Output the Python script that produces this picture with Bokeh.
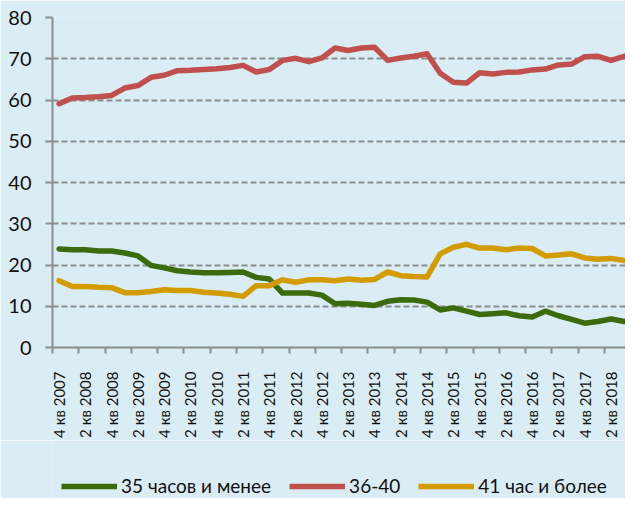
import math
from bokeh.plotting import figure
from bokeh.layouts import column
from bokeh.models import Range1d, FixedTicker, Legend, LegendItem, ColumnDataSource
from bokeh.embed import file_html
from bokeh.resources import INLINE

quarters = [
    "4 кв 2007",
    "1 кв 2008", "2 кв 2008", "3 кв 2008", "4 кв 2008",
    "1 кв 2009", "2 кв 2009", "3 кв 2009", "4 кв 2009",
    "1 кв 2010", "2 кв 2010", "3 кв 2010", "4 кв 2010",
    "1 кв 2011", "2 кв 2011", "3 кв 2011", "4 кв 2011",
    "1 кв 2012", "2 кв 2012", "3 кв 2012", "4 кв 2012",
    "1 кв 2013", "2 кв 2013", "3 кв 2013", "4 кв 2013",
    "1 кв 2014", "2 кв 2014", "3 кв 2014", "4 кв 2014",
    "1 кв 2015", "2 кв 2015", "3 кв 2015", "4 кв 2015",
    "1 кв 2016", "2 кв 2016", "3 кв 2016", "4 кв 2016",
    "1 кв 2017", "2 кв 2017", "3 кв 2017", "4 кв 2017",
    "1 кв 2018", "2 кв 2018", "3 кв 2018",
]

series_names = ["35 часов и менее", "36-40", "41 час и более"]

hours_35_less = [
    23.9, 23.7, 23.7, 23.4, 23.4, 22.9, 22.2, 19.9, 19.3, 18.6, 18.3,
    18.1, 18.1, 18.2, 18.3, 17.0, 16.6, 13.2, 13.2, 13.2, 12.7, 10.6,
    10.7, 10.5, 10.2, 11.2, 11.6, 11.5, 11.0, 9.1, 9.6, 8.8, 8.0,
    8.2, 8.4, 7.7, 7.4, 8.8, 7.7, 6.8, 5.9, 6.3, 6.9, 6.3,
]

hours_36_40 = [
    59.1, 60.5, 60.6, 60.8, 61.1, 62.9, 63.5, 65.5, 66.0, 67.1, 67.2,
    67.4, 67.6, 67.9, 68.4, 66.8, 67.4, 69.6, 70.1, 69.3, 70.2, 72.6,
    72.0, 72.6, 72.8, 69.6, 70.2, 70.6, 71.2, 66.5, 64.3, 64.1, 66.6,
    66.3, 66.7, 66.8, 67.3, 67.5, 68.5, 68.7, 70.5, 70.6, 69.6, 70.6,
]

hours_41_more = [
    16.2, 14.8, 14.8, 14.6, 14.5, 13.3, 13.3, 13.6, 14.0, 13.8, 13.8,
    13.4, 13.2, 12.9, 12.4, 15.0, 15.0, 16.4, 15.8, 16.4, 16.4, 16.2,
    16.6, 16.3, 16.5, 18.3, 17.4, 17.2, 17.1, 22.7, 24.3, 25.0, 24.1,
    24.1, 23.7, 24.1, 24.0, 22.2, 22.4, 22.7, 21.7, 21.4, 21.6, 21.1,
]

y_ticks = [0, 10, 20, 30, 40, 50, 60, 70, 80]

colors = ["#3b6b0c", "#c0504d", "#d29b00"]
BG = "#dbedf4"
GRID = "#8c8c8c"
FONT = "Lato"
TEXT = "#111111"

n = len(quarters)
xs = list(range(n))
src = ColumnDataSource(dict(x=xs, a=hours_35_less, b=hours_36_40, c=hours_41_more))
cols = ["a", "b", "c"]

p = figure(
    width=625, height=440,
    output_backend="svg", toolbar_location=None,
    x_range=Range1d(-0.5, n - 0.9), y_range=Range1d(0, 80),
    min_border_left=52, min_border_right=0, min_border_top=17, min_border_bottom=93,
)
p.background_fill_color = BG
p.border_fill_color = BG
p.outline_line_color = None

for col, color in zip(cols, colors):
    p.line("x", col, source=src, line_color=color, line_width=5.5,
           line_join="round", line_cap="round")

# grid
p.xgrid.visible = False
p.ygrid.ticker = FixedTicker(ticks=y_ticks)
p.ygrid.grid_line_color = GRID
p.ygrid.grid_line_width = 2
p.ygrid.grid_line_dash = "6 3"

# y axis
p.yaxis.ticker = FixedTicker(ticks=y_ticks)
p.yaxis.axis_line_color = GRID
p.yaxis.axis_line_width = 2
p.yaxis.major_tick_line_color = GRID
p.yaxis.major_tick_line_width = 2
p.yaxis.major_tick_out = 7
p.yaxis.major_tick_in = 0
p.yaxis.minor_tick_line_color = None
p.yaxis.major_label_text_font = FONT
p.yaxis.major_label_text_font_size = "20px"
p.yaxis.major_label_text_color = TEXT
p.yaxis.major_label_standoff = 14

# x axis: labels at every other quarter, ticks at boundaries between pairs
label_pos = xs[::2]
boundaries = [i - 0.5 for i in range(0, n + 1, 2)]
p.xaxis.ticker = FixedTicker(ticks=label_pos, minor_ticks=boundaries)
p.xaxis.major_label_overrides = {i: quarters[i] for i in label_pos}
p.xaxis.axis_line_color = GRID
p.xaxis.axis_line_width = 2
p.xaxis.major_tick_line_color = None
p.xaxis.major_tick_out = 0
p.xaxis.major_tick_in = 0
p.xaxis.minor_tick_line_color = GRID
p.xaxis.minor_tick_line_width = 2
p.xaxis.minor_tick_out = 6
p.xaxis.minor_tick_in = 0
p.xaxis.major_label_orientation = math.pi / 2
p.xaxis.major_label_text_font = FONT
p.xaxis.major_label_text_font_size = "15px"
p.xaxis.major_label_text_color = TEXT
p.xaxis.major_label_standoff = 18

# legend strip below the chart (series drawn out of view, only legend shows)
pl = figure(
    width=625, height=58,
    output_backend="svg", toolbar_location=None,
    x_range=Range1d(-0.5, n - 0.9), y_range=Range1d(500, 501),
    x_axis_location=None, y_axis_location=None,
    min_border_left=0, min_border_right=0, min_border_top=0, min_border_bottom=0,
)
pl.background_fill_color = BG
pl.border_fill_color = BG
pl.outline_line_color = None
pl.xgrid.visible = False
pl.ygrid.visible = False

items = []
for name, col, color in zip(series_names, cols, colors):
    r = pl.line("x", col, source=src, line_color=color, line_width=5.5)
    items.append(LegendItem(label=name, renderers=[r]))

legend = Legend(
    items=items,
    orientation="horizontal",
    location=(9, 1),
    padding=0, margin=0, spacing=18,
    glyph_width=56, glyph_height=20, label_standoff=4,
    label_text_font=FONT, label_text_font_size="19px", label_text_color=TEXT,
    border_line_color=None, background_fill_alpha=0,
)
pl.add_layout(legend, "center")

layout = column(p, pl, spacing=0)

open("out.html", "w").write(file_html(layout, INLINE))
